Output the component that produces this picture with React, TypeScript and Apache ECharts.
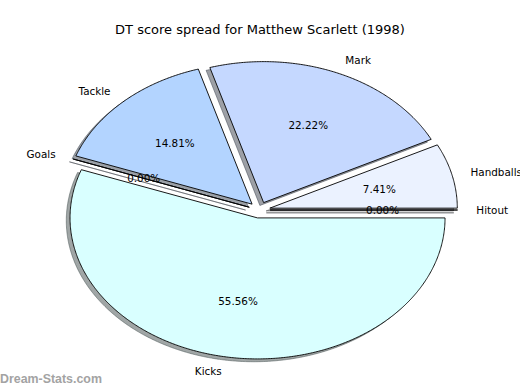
import React, { useEffect, useRef } from 'react';
import * as echarts from 'echarts';

// ---- data ----
const categories: string[] = ['Hitout', 'Handballs', 'Mark', 'Tackle', 'Goals', 'Kicks'];
const dtPoints: number[] = [0, 4, 12, 8, 0, 30];
const sliceColors: string[] = ['#f0f6ff', '#ebf2ff', '#c5d8ff', '#b3d4ff', '#dbe9ff', '#d9ffff'];
const titleText = 'DT score spread for Matthew Scarlett (1998)';
const watermarkText = 'Dream-Stats.com';

// ---- layout ----
const CX = 259.4;
const CY = 210.0;
const RX = 187.5;
const RY = 141;
const EXPLODE = 0.057;
const SHADOW_DX = -0.02 * RX;
const SHADOW_DY = 0.02 * RY;
const FONT = '"DejaVu Sans", Verdana, sans-serif';

function hexToRgb(h: string) {
  const n = parseInt(h.slice(1), 16);
  return [(n >> 16) & 255, (n >> 8) & 255, n & 255];
}

function geom(value: number, start: number, total: number) {
  const t1 = (start / total) * Math.PI * 2;
  const t2 = ((start + value) / total) * Math.PI * 2;
  const mid = (t1 + t2) / 2;
  const ox = CX + EXPLODE * RX * Math.cos(mid);
  const oy = CY - EXPLODE * RY * Math.sin(mid);
  const pts: number[][] = [[ox, oy]];
  const steps = Math.max(1, Math.ceil(((t2 - t1) * 180) / Math.PI / 0.5));
  for (let i = 0; i <= steps; i++) {
    const t = t1 + ((t2 - t1) * i) / steps;
    pts.push([ox + RX * Math.cos(t), oy - RY * Math.sin(t)]);
  }
  if (value === 0) pts.push([ox, oy]);
  return { pts, mid, ox, oy };
}

export default function App() {
  const ref = useRef<HTMLDivElement>(null);
  useEffect(() => {
    document.body.style.margin = '0';
    if (!ref.current) return;
    const chart = echarts.init(ref.current, null, { renderer: 'svg' });
    const total = dtPoints.reduce((a, b) => a + b, 0);
    const starts: number[] = [];
    let acc = 0;
    dtPoints.forEach((v) => {
      starts.push(acc);
      acc += v;
    });
    const data = dtPoints.map((v, i) => ({ name: categories[i], value: [v, starts[i]] }));

    const shadowRender = (params: any, api: any) => {
      const i = params.dataIndex;
      const g = geom(api.value(0), api.value(1), total);
      const [r, gg, b] = hexToRgb(sliceColors[i]);
      const c = `rgba(${Math.round(r * 0.3)},${Math.round(gg * 0.3)},${Math.round(b * 0.3)},0.5)`;
      return {
        type: 'polygon',
        shape: { points: g.pts.map((p) => [p[0] + SHADOW_DX, p[1] + SHADOW_DY]) },
        style: { fill: c, stroke: c, lineWidth: 1 },
      };
    };

    const wedgeRender = (params: any, api: any) => {
      const i = params.dataIndex;
      const g = geom(api.value(0), api.value(1), total);
      return {
        type: 'polygon',
        shape: { points: g.pts },
        style: { fill: sliceColors[i], stroke: '#000', lineWidth: 0.9, lineJoin: 'miter' },
      };
    };

    const textRender = (params: any, api: any) => {
      const i = params.dataIndex;
      const v = api.value(0);
      const g = geom(v, api.value(1), total);
      const cos = Math.cos(g.mid);
      const sin = Math.sin(g.mid);
      const lx = g.ox + 1.1 * RX * cos;
      const ly = g.oy - 1.1 * RY * sin;
      const px = g.ox + 0.6 * RX * cos;
      const py = g.oy - 0.6 * RY * sin;
      const align = cos > 1e-9 ? 'left' : 'right';
      const pct = ((v / total) * 100).toFixed(2) + '%';
      return {
        type: 'group',
        children: [
          {
            type: 'text',
            x: lx,
            y: ly,
            style: {
              text: categories[i],
              fill: '#000',
              font: `10.4px ${FONT}`,
              align,
              verticalAlign: 'middle',
              textAlign: align,
              textVerticalAlign: 'middle',
            },
          },
          {
            type: 'text',
            x: px,
            y: py,
            style: {
              text: pct,
              fill: '#000',
              font: `10.4px ${FONT}`,
              align: 'center',
              verticalAlign: 'middle',
              textAlign: 'center',
              textVerticalAlign: 'middle',
            },
          },
        ],
      };
    };

    chart.setOption({
      animation: false,
      backgroundColor: '#ffffff',
      title: {
        text: titleText,
        left: 'center',
        top: 18,
        textStyle: { fontFamily: 'DejaVu Sans', fontSize: 13, fontWeight: 'normal', color: '#000' },
      },
      graphic: [
        {
          type: 'text',
          x: 0,
          y: 379,
          style: {
            text: watermarkText,
            fill: '#a3a3a3',
            font: 'bold 12.4px "Liberation Sans", Arial, sans-serif',
            align: 'left',
            verticalAlign: 'middle',
            textAlign: 'left',
            textVerticalAlign: 'middle',
          },
        },
      ],
      series: [
        { type: 'custom', coordinateSystem: 'none', renderItem: shadowRender, data, silent: true, z: 1 },
        { type: 'custom', coordinateSystem: 'none', renderItem: wedgeRender, data, silent: true, z: 2 },
        { type: 'custom', coordinateSystem: 'none', renderItem: textRender, data, silent: true, z: 3 },
      ],
    });
    return () => chart.dispose();
  }, []);
  return <div ref={ref} style={{ width: 520, height: 390, position: 'absolute', left: 0, top: 0 }} />;
}
